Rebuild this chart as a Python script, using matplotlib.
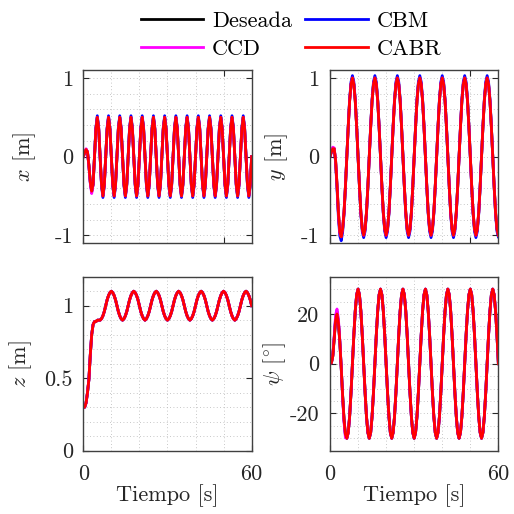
# quadrotor tracking: position x, y, z and yaw psi for the four controllers
from matplotlib import pyplot as plt
from matplotlib.ticker import MultipleLocator
from matplotlib.lines import Line2D
import numpy as np

#---------------------------data----------------------------------------------------
# sample times, every 0.5 s from 0 to 60 s
t = np.linspace(0, 60, 121)

labels = ['Deseada', 'CBM', 'CCD', 'CABR']

# x [m] : start (t = 0 .. 3.5) and steady part (t = 4 .. 60)
x_start_cabr = [0, 0.05, 0.09, 0.06, -0.11, -0.32, -0.44, -0.35]
x_start_ccd = [0, 0.05, 0.1, 0.06, -0.12, -0.34, -0.47, -0.36]
x_start_cbm = [0, 0.05, 0.09, 0.06, -0.11, -0.33, -0.45, -0.36]
x_steady = [
  0, 0.35, 0.5, 0.35, 0, -0.35, -0.5, -0.35, 0, 0.35, 0.5, 0.35, 0, -0.35, -0.5, -0.35,
  0, 0.35, 0.5, 0.35, 0, -0.35, -0.5, -0.35, 0, 0.35, 0.5, 0.35, 0, -0.35, -0.5, -0.35,
  0, 0.35, 0.5, 0.35, 0, -0.35, -0.5, -0.35, 0, 0.35, 0.5, 0.35, 0, -0.35, -0.5, -0.35,
  0, 0.35, 0.5, 0.35, 0, -0.35, -0.5, -0.35, 0, 0.35, 0.5, 0.35, 0, -0.35, -0.5, -0.35,
  0, 0.35, 0.5, 0.35, 0, -0.35, -0.5, -0.35, 0, 0.35, 0.5, 0.35, 0, -0.35, -0.5, -0.35,
  0, 0.35, 0.5, 0.35, 0, -0.35, -0.5, -0.35, 0, 0.35, 0.5, 0.35, 0, -0.35, -0.5, -0.35,
  0, 0.35, 0.5, 0.35, 0, -0.35, -0.5, -0.35, 0, 0.35, 0.5, 0.35, 0, -0.35, -0.5, -0.35,
  0]
x_steady_cbm = [
  0, 0.37, 0.52, 0.37, 0, -0.37, -0.52, -0.37, 0, 0.37, 0.52, 0.37, 0, -0.37, -0.52, -0.37,
  0, 0.37, 0.52, 0.37, 0, -0.37, -0.52, -0.37, 0, 0.37, 0.52, 0.37, 0, -0.37, -0.52, -0.37,
  0, 0.37, 0.52, 0.37, 0, -0.37, -0.52, -0.37, 0, 0.37, 0.52, 0.37, 0, -0.37, -0.52, -0.37,
  0, 0.37, 0.52, 0.37, 0, -0.37, -0.52, -0.37, 0, 0.37, 0.52, 0.37, 0, -0.37, -0.52, -0.37,
  0, 0.37, 0.52, 0.37, 0, -0.37, -0.52, -0.37, 0, 0.37, 0.52, 0.37, 0, -0.37, -0.52, -0.37,
  0, 0.37, 0.52, 0.37, 0, -0.37, -0.52, -0.37, 0, 0.37, 0.52, 0.37, 0, -0.37, -0.52, -0.37,
  0, 0.37, 0.52, 0.37, 0, -0.37, -0.52, -0.37, 0, 0.37, 0.52, 0.37, 0, -0.37, -0.52, -0.37,
  0]

# y [m] : start (t = 0 .. 7.5) and steady part (t = 8 .. 60)
y_start_cabr = [0, 0.06, 0.1, 0.1, -0.05, -0.36, -0.71, -0.96, -1.02, -0.92, -0.71, -0.38, 0, 0.38, 0.71, 0.92]
y_start_ccd = [0, 0.07, 0.12, 0.11, -0.05, -0.36, -0.72, -0.97, -1.02, -0.92, -0.71, -0.38, 0, 0.38, 0.71, 0.92]
y_start_cbm = [0, 0.06, 0.11, 0.1, -0.07, -0.4, -0.77, -1.01, -1.07, -0.96, -0.74, -0.39, 0, 0.39, 0.73, 0.95]
y_steady = [
  1, 0.92, 0.71, 0.38, 0, -0.38, -0.71, -0.92, -1, -0.92, -0.71, -0.38, 0, 0.38, 0.71, 0.92,
  1, 0.92, 0.71, 0.38, 0, -0.38, -0.71, -0.92, -1, -0.92, -0.71, -0.38, 0, 0.38, 0.71, 0.92,
  1, 0.92, 0.71, 0.38, 0, -0.38, -0.71, -0.92, -1, -0.92, -0.71, -0.38, 0, 0.38, 0.71, 0.92,
  1, 0.92, 0.71, 0.38, 0, -0.38, -0.71, -0.92, -1, -0.92, -0.71, -0.38, 0, 0.38, 0.71, 0.92,
  1, 0.92, 0.71, 0.38, 0, -0.38, -0.71, -0.92, -1, -0.92, -0.71, -0.38, 0, 0.38, 0.71, 0.92,
  1, 0.92, 0.71, 0.38, 0, -0.38, -0.71, -0.92, -1, -0.92, -0.71, -0.38, 0, 0.38, 0.71, 0.92,
  1, 0.92, 0.71, 0.38, 0, -0.38, -0.71, -0.92, -1]
y_steady_cbm = [
  1.03, 0.95, 0.73, 0.39, 0, -0.39, -0.73, -0.95, -1.03, -0.95, -0.73, -0.39, 0, 0.39, 0.73, 0.95,
  1.03, 0.95, 0.73, 0.39, 0, -0.39, -0.73, -0.95, -1.03, -0.95, -0.73, -0.39, 0, 0.39, 0.73, 0.95,
  1.03, 0.95, 0.73, 0.39, 0, -0.39, -0.73, -0.95, -1.03, -0.95, -0.73, -0.39, 0, 0.39, 0.73, 0.95,
  1.03, 0.95, 0.73, 0.39, 0, -0.39, -0.73, -0.95, -1.03, -0.95, -0.73, -0.39, 0, 0.39, 0.73, 0.95,
  1.03, 0.95, 0.73, 0.39, 0, -0.39, -0.73, -0.95, -1.03, -0.95, -0.73, -0.39, 0, 0.39, 0.73, 0.95,
  1.03, 0.95, 0.73, 0.39, 0, -0.39, -0.73, -0.95, -1.03, -0.95, -0.73, -0.39, 0, 0.39, 0.73, 0.95,
  1.03, 0.95, 0.73, 0.39, 0, -0.39, -0.73, -0.95, -1.02]

# z [m] : start (t = 0 .. 5.5) and steady part (t = 6 .. 60), all controllers overlap
z_start = [0.3, 0.3, 0.33, 0.4, 0.49, 0.66, 0.8, 0.87, 0.89, 0.89, 0.9, 0.9]
z_steady = [
  0.9, 0.91, 0.93, 0.96, 1, 1.04, 1.07, 1.09, 1.1, 1.09, 1.07, 1.04, 1, 0.96, 0.93, 0.91,
  0.9, 0.91, 0.93, 0.96, 1, 1.04, 1.07, 1.09, 1.1, 1.09, 1.07, 1.04, 1, 0.96, 0.93, 0.91,
  0.9, 0.91, 0.93, 0.96, 1, 1.04, 1.07, 1.09, 1.1, 1.09, 1.07, 1.04, 1, 0.96, 0.93, 0.91,
  0.9, 0.91, 0.93, 0.96, 1, 1.04, 1.07, 1.09, 1.1, 1.09, 1.07, 1.04, 1, 0.96, 0.93, 0.91,
  0.9, 0.91, 0.93, 0.96, 1, 1.04, 1.07, 1.09, 1.1, 1.09, 1.07, 1.04, 1, 0.96, 0.93, 0.91,
  0.9, 0.91, 0.93, 0.96, 1, 1.04, 1.07, 1.09, 1.1, 1.09, 1.07, 1.04, 1, 0.96, 0.93, 0.91,
  0.9, 0.91, 0.93, 0.96, 1, 1.04, 1.07, 1.09, 1.1, 1.09, 1.07, 1.04, 1]

# psi [deg] : start (t = 0 .. 5.5) and steady part (t = 6 .. 60)
psi_start_cabr = [0, 0.3, 3, 10, 17.5, 20, 16.5, 8.8, -1.6, -12.7, -22.3, -28.4]
psi_start_ccd = [0, 0.3, 3.3, 11, 19.5, 22, 18, 9.5, -1.5, -13.5, -23.5, -29.8]
psi_start_cbm = [0, 0.3, 3.2, 10.5, 18.5, 21, 17, 9, -1.5, -13, -22.8, -28.9]
psi_steady = [
  -30, -27.7, -21.2, -11.5, 0, 11.5, 21.2, 27.7, 30, 27.7, 21.2, 11.5, 0, -11.5, -21.2, -27.7,
  -30, -27.7, -21.2, -11.5, 0, 11.5, 21.2, 27.7, 30, 27.7, 21.2, 11.5, 0, -11.5, -21.2, -27.7,
  -30, -27.7, -21.2, -11.5, 0, 11.5, 21.2, 27.7, 30, 27.7, 21.2, 11.5, 0, -11.5, -21.2, -27.7,
  -30, -27.7, -21.2, -11.5, 0, 11.5, 21.2, 27.7, 30, 27.7, 21.2, 11.5, 0, -11.5, -21.2, -27.7,
  -30, -27.7, -21.2, -11.5, 0, 11.5, 21.2, 27.7, 30, 27.7, 21.2, 11.5, 0, -11.5, -21.2, -27.7,
  -30, -27.7, -21.2, -11.5, 0, 11.5, 21.2, 27.7, 30, 27.7, 21.2, 11.5, 0, -11.5, -21.2, -27.7,
  -30, -27.7, -21.2, -11.5, 0, 11.5, 21.2, 27.7, 30, 27.7, 21.2, 11.5, 0]

# full series (the black reference lies completely under the red CABR line)
x_cabr = x_start_cabr + x_steady
x_ccd = x_start_ccd + x_steady
x_cbm = x_start_cbm + x_steady_cbm
x_des = x_start_cabr + x_steady

y_cabr = y_start_cabr + y_steady
y_ccd = y_start_ccd + y_steady
y_cbm = y_start_cbm + y_steady_cbm
y_des = y_start_cabr + y_steady

z_cabr = z_start + z_steady
z_ccd = z_start + z_steady
z_cbm = z_start + z_steady
z_des = z_start + z_steady

psi_cabr = psi_start_cabr + psi_steady
psi_ccd = psi_start_ccd + psi_steady
psi_cbm = psi_start_cbm + psi_steady
psi_des = psi_start_cabr + psi_steady

#---------------------------style---------------------------------------------------
plt.rcParams['font.family'] = 'serif'
plt.rcParams['font.serif'] = ['cmr10']
plt.rcParams['mathtext.fontset'] = 'cm'
plt.rcParams['axes.unicode_minus'] = False

colors = ['black', (0, 0, 1), (1, 0, 1), (1, 0, 0)]
LW = 2.0
DARK = '#262626'
FS_TICK = 16
FS_LABEL = 16

# one panel with the four curves
def draw_panel(ax, series, ylim, yticks, ytick_labels, yminor, ylabel, label_x, bottom):
  for s, c in zip(series, colors):
    ax.plot(t, s, color = c, lw = LW)
  ax.set_xlim(0, 60)
  ax.set_ylim(*ylim)
  ax.set_yticks(yticks)
  ax.set_yticklabels(ytick_labels)
  ax.xaxis.set_minor_locator(MultipleLocator(10))
  ax.yaxis.set_minor_locator(MultipleLocator(yminor))
  ax.grid(which = 'both', linestyle = (0, (1, 3)), color = '#b5b5b5', lw = 0.6)
  ax.tick_params(which = 'major', direction = 'in', length = 4, width = 0.8,
                 top = True, right = True, labelsize = FS_TICK, colors = DARK, pad = 7.5)
  ax.tick_params(which = 'minor', length = 0)
  if bottom:
    ax.set_xticks([0, 60])
    ax.set_xticklabels(['0', '60'])
    ax.tick_params(axis = 'x', pad = 10)
    ax.set_xlabel('Tiempo [s]', fontsize = FS_LABEL, color = DARK, labelpad = 0)
  else:
    ax.set_xticks([0, 50])
    ax.set_xticklabels(['', ''])
  ax.set_ylabel(ylabel, fontsize = FS_LABEL, color = DARK)
  ax.yaxis.set_label_coords(label_x, 0.5)
  for sp in ax.spines.values():
    sp.set_color('#404040')
    sp.set_linewidth(1.0)

#---------------------------main----------------------------------------------------
fig = plt.figure(figsize = (5.14, 5.14), dpi = 100)

ax_x = fig.add_axes([0.162, 0.527, 0.3276, 0.3366])
ax_y = fig.add_axes([0.642, 0.527, 0.3276, 0.3366])
ax_z = fig.add_axes([0.162, 0.1232, 0.3276, 0.3385])
ax_psi = fig.add_axes([0.642, 0.1232, 0.3276, 0.3385])

draw_panel(ax_x, [x_des, x_cbm, x_ccd, x_cabr], (-1.1, 1.1), [-1, 0, 1], ['-1', '0', '1'], 0.2,
           r'$x$ [m]', -0.27, False)
draw_panel(ax_y, [y_des, y_cbm, y_ccd, y_cabr], (-1.1, 1.1), [-1, 0, 1], ['-1', '0', '1'], 0.2,
           r'$y$ [m]', -0.24, False)
draw_panel(ax_z, [z_des, z_cbm, z_ccd, z_cabr], (0, 1.2), [0, 0.5, 1], ['0', '0.5', '1'], 0.1,
           r'$z$ [m]', -0.29, True)
draw_panel(ax_psi, [psi_des, psi_cbm, psi_ccd, psi_cabr], (-35, 35), [-20, 0, 20], ['-20', '0', '20'], 5,
           r'$\psi$ [$^{\circ}$]', -0.25, True)

# legend on top, two columns: Deseada / CCD in the first, CBM / CABR in the second
handles = [Line2D([], [], color = c, lw = LW) for c in colors]
order = [0, 2, 1, 3]
fig.legend([handles[i] for i in order], [labels[i] for i in order], ncol = 2,
           loc = 'upper left', bbox_to_anchor = (141.0 / 514, 1 - 11.0 / 514),
           frameon = False, fontsize = FS_LABEL, handlelength = 2.8, handletextpad = 0.4,
           columnspacing = 0.6, labelspacing = 0.4, borderpad = 0, borderaxespad = 0)

fig.savefig('out.png', dpi = 100)
